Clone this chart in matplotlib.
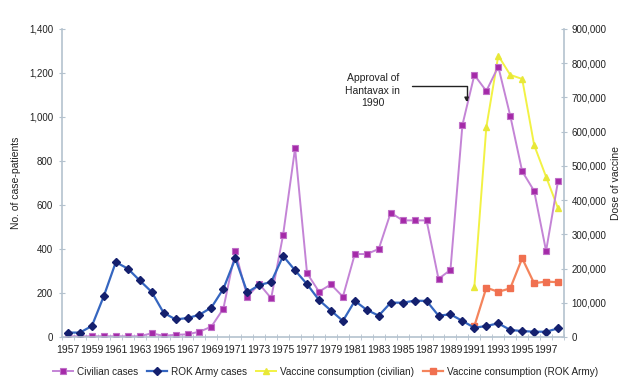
import matplotlib.pyplot as plt
import numpy as np

plt.rcParams['font.family'] = ['Liberation Sans', 'DejaVu Sans']

years = list(range(1957, 1999))

civilian_cases = [3, 3, 3, 3, 3, 3, 3, 17, 5, 10, 12, 24, 47, 129, 390, 183, 241, 176,
                  465, 858, 290, 206, 239, 183, 377, 377, 400, 565, 530, 530, 530, 264,
                  305, 964, 1191, 1118, 1229, 1006, 753, 664, 391, 709]
army_cases = [20, 20, 50, 186, 340, 311, 257, 205, 110, 80, 86, 101, 134, 219, 357, 203,
              236, 250, 368, 303, 240, 168, 120, 73, 164, 123, 97, 156, 156, 165, 164, 97,
              103, 73, 42, 50, 62, 32, 27, 24, 24, 39]

vacc_years = list(range(1991, 1999))
vacc_civilian = [147000, 613000, 822000, 766000, 754000, 561000, 468000, 376000]
vacc_army = [32000, 144000, 132000, 142000, 230000, 157000, 162000, 160000]

fig = plt.figure(figsize=(6.2, 3.8), dpi=100)
fig.patch.set_facecolor('white')
ax = fig.add_axes([0.1, 0.1132, 0.8097, 0.8105])
ax2 = ax.twinx()
ax.set_zorder(ax2.get_zorder() + 1)
ax.patch.set_visible(False)

spine_col = '#b4c2ce'
txt_col = '#222222'

l1, = ax.plot(years, civilian_cases, color='#c484d6', lw=1.4, marker='s', ms=4.5,
              mfc='#a42aa8', mec='#c070c8', mew=0.8, label='Civilian cases')
l2, = ax.plot(years, army_cases, color='#3566c0', lw=1.6, marker='D', ms=3.6,
              mfc='#14206e', mec='#14206e', label='ROK Army cases')
l3, = ax2.plot(vacc_years, vacc_civilian, color='#f2f244', lw=1.4, marker='^', ms=4,
               mfc='#e8e838', mec='#e8e838', label='Vaccine consumption (civilian)')
l4, = ax2.plot(vacc_years, vacc_army, color='#f4845c', lw=1.6, marker='s', ms=3.8,
               mfc='#f07050', mec='#f07050', label='Vaccine consumption (ROK Army)')

ax.set_xlim(1956.5, 1998.5)
ax.set_ylim(0, 1400)
ax2.set_ylim(0, 900000)

ax.set_yticks(np.arange(0, 1401, 200))
ax.set_yticklabels([f'{v:,}' for v in range(0, 1401, 200)])
ax2.set_yticks(np.arange(0, 900001, 100000))
ax2.set_yticklabels([f'{v:,}' for v in range(0, 900001, 100000)])

ax.set_xticks(list(range(1957, 1998, 2)))
ax.set_xticklabels([str(y) for y in range(1957, 1998, 2)])
ax.set_xticks(np.arange(1956.5, 1998.6, 1), minor=True)

for a in (ax, ax2):
    for s in a.spines.values():
        s.set_visible(False)
ax.spines['left'].set_visible(True)
ax.spines['bottom'].set_visible(True)
ax2.spines['right'].set_visible(True)
for s in (ax.spines['left'], ax.spines['bottom'], ax2.spines['right']):
    s.set_color(spine_col)
    s.set_linewidth(1.2)

ax.tick_params(axis='y', direction='inout', length=5, color=spine_col, labelsize=7,
               labelcolor=txt_col, pad=4)
ax2.tick_params(axis='y', direction='inout', length=5, color=spine_col, labelsize=7,
                labelcolor=txt_col, pad=3)
ax.tick_params(axis='x', which='major', length=0, labelsize=7.5, labelcolor=txt_col, pad=6)
ax.tick_params(axis='x', which='minor', direction='inout', length=5, color=spine_col)

ax.set_ylabel('No. of case-patients', fontsize=7.5, color=txt_col, labelpad=6)
ax2.set_ylabel('Dose of vaccine', fontsize=7.5, color=txt_col, labelpad=3)

# approval marker: bracket arrow pointing at 1990
ax.annotate('', xy=(1990.35, 1068), xytext=(1985.8, 1141),
            arrowprops=dict(arrowstyle='-|>', color='#222222', lw=1.0,
                            mutation_scale=6, shrinkA=0, shrinkB=0,
                            connectionstyle='angle,angleA=0,angleB=90,rad=0'))
ax.text(1982.5, 1120, 'Approval of\nHantavax in\n1990', ha='center', va='center',
        fontsize=7.5, color=txt_col, linespacing=1.3)

fig.legend(handles=[l1, l2, l3, l4], loc='center', bbox_to_anchor=(0.525, 0.022),
           ncol=4, frameon=False, fontsize=7.2, handlelength=2.0, handletextpad=0.4,
           columnspacing=0.9, labelcolor=txt_col)

fig.savefig('out.png', dpi=100, facecolor='white')
